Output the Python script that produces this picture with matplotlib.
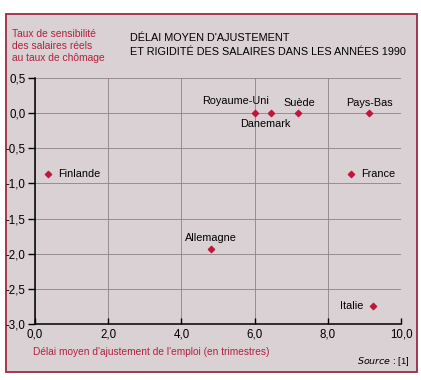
import matplotlib.pyplot as plt
from matplotlib.patches import Rectangle

# data
pays = ['Finlande', 'Royaume-Uni', 'Danemark', 'Suède', 'Pays-Bas',
        'France', 'Allemagne', 'Italie']
delai = [0.36, 6.0, 6.45, 7.19, 9.13, 8.64, 4.81, 9.23]
sensibilite = [-0.86, 0.0, 0.0, 0.0, 0.0, -0.86, -1.94, -2.74]

x_ticks = [0, 2, 4, 6, 8, 10]
x_labels = ['0,0', '2,0', '4,0', '6,0', '8,0', '10,0']
y_ticks = [0.5, 0.0, -0.5, -1.0, -1.5, -2.0, -2.5, -3.0]
y_labels = ['0,5', '0,0', '-0,5', '-1,0', '-1,5', '-2,0', '-2,5', '-3,0']

# label offsets in points (dx, dy, ha, va)
offsets = {
    'Finlande': (7, 0, 'left', 'center'),
    'Royaume-Uni': (-14, 5, 'center', 'bottom'),
    'Danemark': (-4, -4, 'center', 'top'),
    'Suède': (1, 4, 'center', 'bottom'),
    'Pays-Bas': (0, 4, 'center', 'bottom'),
    'France': (7, 0, 'left', 'center'),
    'Allemagne': (0, 5, 'center', 'bottom'),
    'Italie': (-7, 0, 'right', 'center'),
}

plt.rcParams['font.family'] = ['Liberation Sans', 'DejaVu Sans']

bg = '#d9d1d3'
red = '#b3203f'
dot = '#c0163c'

fig = plt.figure(figsize=(4.21, 3.80), dpi=100)
fig.patch.set_facecolor('white')

# pink panel with dark red border
fig.patches.append(Rectangle((6 / 421, 1 - 372 / 380), 411 / 421, 358 / 380,
                             transform=fig.transFigure, facecolor=bg,
                             edgecolor='#9b2a45', linewidth=1.3, zorder=0))

ax = fig.add_axes([35 / 421, 1 - 324 / 380, 366 / 421, 246 / 380])
ax.set_zorder(2)
ax.set_facecolor(bg)
ax.set_xlim(0, 10)
ax.set_ylim(-3.0, 0.5)

ax.set_xticks(x_ticks)
ax.set_xticklabels(x_labels, fontsize=8.3)
ax.set_yticks(y_ticks)
ax.set_yticklabels(y_labels, fontsize=8.3)
ax.tick_params(axis='x', direction='in', length=4, width=1, pad=3)
ax.tick_params(axis='y', direction='out', length=5, width=1, pad=2)

ax.grid(True, color='#8a8485', linewidth=0.6)
ax.set_axisbelow(True)
for s in ['top', 'right']:
    ax.spines[s].set_visible(False)
for s in ['left', 'bottom']:
    ax.spines[s].set_linewidth(1.1)
    ax.spines[s].set_color('black')

ax.scatter(delai, sensibilite, marker='D', s=10, color=dot, zorder=3,
           clip_on=False)
for nom, x, y in zip(pays, delai, sensibilite):
    dx, dy, ha, va = offsets[nom]
    ax.annotate(nom, (x, y), xytext=(dx, dy), textcoords='offset points',
                ha=ha, va=va, fontsize=7.8, color='black')

fig.text(130 / 421, 1 - 45 / 380,
         "DÉLAI MOYEN D'AJUSTEMENT\nET RIGIDITÉ DES SALAIRES DANS LES ANNÉES 1990",
         fontsize=7.8, ha='left', va='center', linespacing=1.45, color='black')
fig.text(12 / 421, 1 - 46 / 380,
         "Taux de sensibilité\ndes salaires réels\nau taux de chômage",
         fontsize=7.4, ha='left', va='center', linespacing=1.2, color=red)
fig.text(33 / 421, 1 - 352 / 380,
         "Délai moyen d'ajustement de l'emploi (en trimestres)",
         fontsize=7.3, ha='left', va='center', color=red)
fig.text(410 / 421, 1 - 362 / 380, r"$\it{Source}$ : [1]",
         fontsize=6.8, ha='right', va='center', color='black')

fig.savefig('out.png', dpi=100, facecolor='white')
